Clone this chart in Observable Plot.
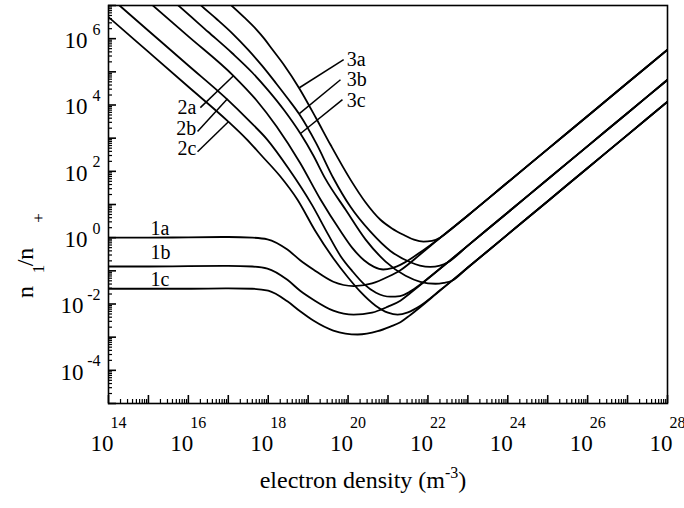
<!DOCTYPE html>
<html><head><meta charset="utf-8">
<script src="https://cdn.jsdelivr.net/npm/d3@7"></script>
<script src="https://cdn.jsdelivr.net/npm/@observablehq/plot@0.6"></script>
<style>
body{margin:0;background:#fff;} svg{display:block}
svg text, svg tspan { font-family: "Liberation Serif", "Times New Roman", serif !important; }
</style>
</head><body><div id="chart"></div>
<script>
// Each curve: [log10(electron density / m^-3), log10(n1/n+)]
const curve1a = [[14,0],[15,0],[16,0.01],[17,0.02],[17.6,0.0],[17.98,-0.05],[18.48,-0.36],[18.8,-0.68],[19.13,-0.96],[19.63,-1.33],[20.14,-1.46],[20.6,-1.38],[21.0,-1.18],[21.31,-0.98],[21.81,-0.5],[22.31,0.0],[23,0.67],[24,1.67],[25,2.67],[26,3.67],[27,4.67],[28,5.67]];
const curve1b = [[14,-0.87],[15,-0.87],[16,-0.86],[17,-0.85],[17.6,-0.87],[17.98,-0.93],[18.48,-1.27],[18.8,-1.6],[19.13,-1.87],[19.63,-2.2],[20.14,-2.32],[20.6,-2.26],[21.0,-2.08],[21.31,-1.9],[21.56,-1.67],[22.06,-1.18],[23,-0.24],[24,0.76],[25,1.76],[26,2.76],[27,3.76],[28,4.76]];
const curve1c = [[14,-1.54],[15,-1.54],[16,-1.54],[17,-1.53],[17.6,-1.54],[18.0,-1.6],[18.48,-1.92],[18.8,-2.22],[19.13,-2.5],[19.63,-2.8],[20.24,-2.92],[20.74,-2.82],[21.06,-2.68],[21.31,-2.55],[21.56,-2.33],[22.31,-1.59],[23,-0.9],[24,0.1],[25,1.1],[26,2.1],[27,3.1],[28,4.1]];
const curve2a = [[14.9,7.22],[16,6.07],[17.13,4.88],[17.7,4.15],[18.21,3.35],[18.8,2.25],[19.31,1.15],[19.81,0.2],[20.1,-0.3],[20.4,-0.68],[20.65,-0.88],[20.88,-0.96],[21.1,-0.92],[21.4,-0.76],[21.81,-0.44],[22.31,0.0],[23,0.67],[24,1.67],[25,2.67],[26,3.67],[27,4.67],[28,5.67]];
const curve2b = [[14,7.29],[15,6.24],[16,5.19],[16.98,4.16],[17.5,3.55],[17.98,2.95],[18.5,2.1],[19.1,0.98],[19.5,0.1],[19.81,-0.55],[20.1,-1.0],[20.4,-1.4],[20.7,-1.66],[21.06,-1.78],[21.3,-1.76],[21.56,-1.62],[21.8,-1.42],[22.06,-1.17],[22.5,-0.74],[23,-0.24],[24,0.76],[25,1.76],[26,2.76],[27,3.76],[28,4.76]];
const curve2c = [[14,6.65],[15,5.6],[16,4.55],[17.0,3.5],[17.45,2.98],[17.86,2.44],[18.3,1.85],[18.73,1.15],[19.18,0.2],[19.63,-0.62],[20.0,-1.2],[20.3,-1.62],[20.69,-2.05],[21.0,-2.26],[21.24,-2.32],[21.5,-2.25],[21.81,-2.05],[22.31,-1.58],[23,-0.9],[24,0.1],[25,1.1],[26,2.1],[27,3.1],[28,4.1]];
const curve3a = [[16.8,7.3],[17.06,7.02],[17.4,6.64],[17.7,6.28],[17.9,6.0],[18.1,5.68],[18.4,5.2],[18.78,4.5],[19.2,3.6],[19.56,2.8],[20.06,1.75],[20.44,1.06],[20.81,0.54],[21.1,0.28],[21.4,0.08],[21.65,-0.06],[21.89,-0.12],[22.1,-0.1],[22.3,0.0],[22.56,0.23],[23,0.67],[24,1.67],[25,2.67],[26,3.67],[27,4.67],[28,5.67]];
const curve3b = [[16.1,7.25],[16.3,7.02],[16.7,6.6],[17.1,6.16],[17.5,5.66],[17.85,5.18],[18.2,4.65],[18.5,4.18],[18.78,3.72],[19.2,2.85],[19.63,1.8],[20.06,0.93],[20.56,0.18],[21.06,-0.4],[21.56,-0.74],[21.8,-0.84],[22.06,-0.88],[22.3,-0.84],[22.5,-0.74],[23,-0.24],[24,0.76],[25,1.76],[26,2.76],[27,3.76],[28,4.76]];
const curve3c = [[15.5,7.26],[15.73,7.02],[16.5,6.2],[17.1,5.56],[17.6,4.98],[18.0,4.44],[18.4,3.84],[18.81,3.13],[19.12,2.5],[19.43,1.78],[19.94,0.84],[20.44,-0.06],[20.94,-0.72],[21.44,-1.15],[21.81,-1.33],[22.19,-1.39],[22.4,-1.36],[22.6,-1.3],[23,-0.9],[24,0.1],[25,1.1],[26,2.1],[27,3.1],[28,4.1]];

// Curve labels (log10 positions)
const curveLabels = ["1a","1b","1c","2a","2b","2c","3a","3b","3c"];
const labelE = [15.05,15.05,15.05,16.2,16.2,16.2,19.97,19.97,19.97];
const labelV = [0.26,-0.45,-1.27,3.92,3.29,2.68,5.37,4.76,4.13];
const labelAnchor = ["start","start","start","end","end","end","start","start","start"];

// Leader lines from labels to curves (log10 positions)
const pointerFromE = [16.30,16.23,16.23,19.89,19.81,19.86];
const pointerFromV = [3.92,3.20,2.59,5.37,4.76,4.16];
const pointerToE   = [17.13,16.98,17.01,18.78,18.78,18.81];
const pointerToV   = [4.88,4.19,3.50,4.52,3.74,3.14];

// Tick labels (exponents)
const xTickExps = [14,16,18,20,22,24,26,28];
const yTickExps = [6,4,2,0,-2,-4];

const W = 684, H = 508, mL = 108, mR = 17, mT = 5, mB = 105;
const plotW = W - mL - mR, plotH = H - mT - mB;
const font = "Liberation Serif, Times New Roman, serif";

const curveTable = {"1a": curve1a, "1b": curve1b, "1c": curve1c, "2a": curve2a, "2b": curve2b, "2c": curve2c, "3a": curve3a, "3b": curve3b, "3c": curve3c};
const rows = [];
for (const [id, pts] of Object.entries(curveTable)) for (const [e, v] of pts) rows.push({id, n: 10 ** e, r: 10 ** v});

const xMajor = d3.range(14, 29).map(e => 10 ** e);
const xMinor = d3.range(14, 28).flatMap(e => d3.range(2, 10).map(m => m * 10 ** e));
const yMajor = d3.range(-5, 8).map(e => 10 ** e);
const yMinor = d3.range(-5, 7).flatMap(e => d3.range(2, 10).map(m => m * 10 ** e));
const expFmt = d => String(Math.round(Math.log10(d))).replace("\u2212", "-");
const labelIdx = d3.range(curveLabels.length);
const labelOpts = anchor => ({
  x: i => 10 ** labelE[i], y: i => 10 ** labelV[i], text: i => curveLabels[i],
  textAnchor: anchor, lineAnchor: "middle", fontSize: 20, fontFamily: font, fill: "#000"
});

const chart = Plot.plot({
  width: W, height: H, marginLeft: mL, marginRight: mR, marginTop: mT, marginBottom: mB,
  style: {fontFamily: font, background: "#fff", color: "#000", overflow: "visible"},
  x: {type: "log", domain: [1e14, 1e28]},
  y: {type: "log", domain: [1e-5, 1e7]},
  marks: [
    Plot.ruleX(xMinor, {x: d => d, insetTop: plotH - 4, stroke: "#000", strokeWidth: 1.2}),
    Plot.ruleX(xMajor, {x: d => d, insetTop: plotH - 8, stroke: "#000", strokeWidth: 1.6}),
    Plot.ruleY(yMinor, {y: d => d, insetRight: plotW - 4, stroke: "#000", strokeWidth: 1.2}),
    Plot.ruleY(yMajor, {y: d => d, insetRight: plotW - 8, stroke: "#000", strokeWidth: 1.6}),
    Plot.line(rows, {x: "n", y: "r", z: "id", curve: "monotone-x", stroke: "#000", strokeWidth: 1.8, clip: true}),
    Plot.link(d3.range(pointerFromE.length), {
      x1: i => 10 ** pointerFromE[i], y1: i => 10 ** pointerFromV[i],
      x2: i => 10 ** pointerToE[i], y2: i => 10 ** pointerToV[i],
      stroke: "#000", strokeWidth: 1.5
    }),
    Plot.text(labelIdx.filter(i => labelAnchor[i] === "start"), labelOpts("start")),
    Plot.text(labelIdx.filter(i => labelAnchor[i] === "end"), labelOpts("end")),
    Plot.axisX(xTickExps.map(e => 10 ** e), {tickSize: 0, tickPadding: 0, tickFormat: () => "10", textAnchor: "end", dx: 5, dy: 31, fontSize: 23, fontFamily: font, label: null}),
    Plot.axisX(xTickExps.map(e => 10 ** e), {tickSize: 0, tickPadding: 0, tickFormat: expFmt, textAnchor: "start", dx: 2, dy: 13, fontSize: 16, fontFamily: font, label: null}),
    Plot.axisY(yTickExps.filter(e => e >= 0).map(e => 10 ** e), {tickSize: 0, tickPadding: 0, tickFormat: () => "10", textAnchor: "end", dx: -21, dy: 2, fontSize: 23, fontFamily: font, label: null}),
    Plot.axisY(yTickExps.filter(e => e < 0).map(e => 10 ** e), {tickSize: 0, tickPadding: 0, tickFormat: () => "10", textAnchor: "end", dx: -25, dy: 2, fontSize: 23, fontFamily: font, label: null}),
    Plot.axisY(yTickExps.map(e => 10 ** e), {tickSize: 0, tickPadding: 0, tickFormat: expFmt, textAnchor: "end", dx: -8, dy: -9, fontSize: 16, fontFamily: font, label: null}),
    Plot.frame({stroke: "#000", strokeWidth: 1.6})
  ]
});

const svg = d3.select(chart);
// x-axis title
const xt = svg.append("text").attr("x", 363).attr("y", 488).attr("text-anchor", "middle")
  .style("font-family", font).attr("font-size", 24).attr("fill", "#000");
xt.append("tspan").text("electron density (m");
xt.append("tspan").attr("dy", -10).attr("font-size", 16).text("-3");
xt.append("tspan").attr("dy", 10).text(")");
// y-axis title
const yt = svg.append("text").attr("transform", "translate(33,292) rotate(-90)")
  .style("font-family", font).attr("font-size", 24).attr("fill", "#000");
yt.append("tspan").attr("x", 0).attr("y", 0).text("n");
yt.append("tspan").attr("x", 23).attr("y", 11).attr("font-size", 17).text("1");
yt.append("tspan").attr("x", 35).attr("y", 0).text("/n");
yt.append("tspan").attr("x", 74).attr("y", 11).attr("font-size", 17).text("+");

document.getElementById("chart").appendChild(chart);
</script>
</body></html>
